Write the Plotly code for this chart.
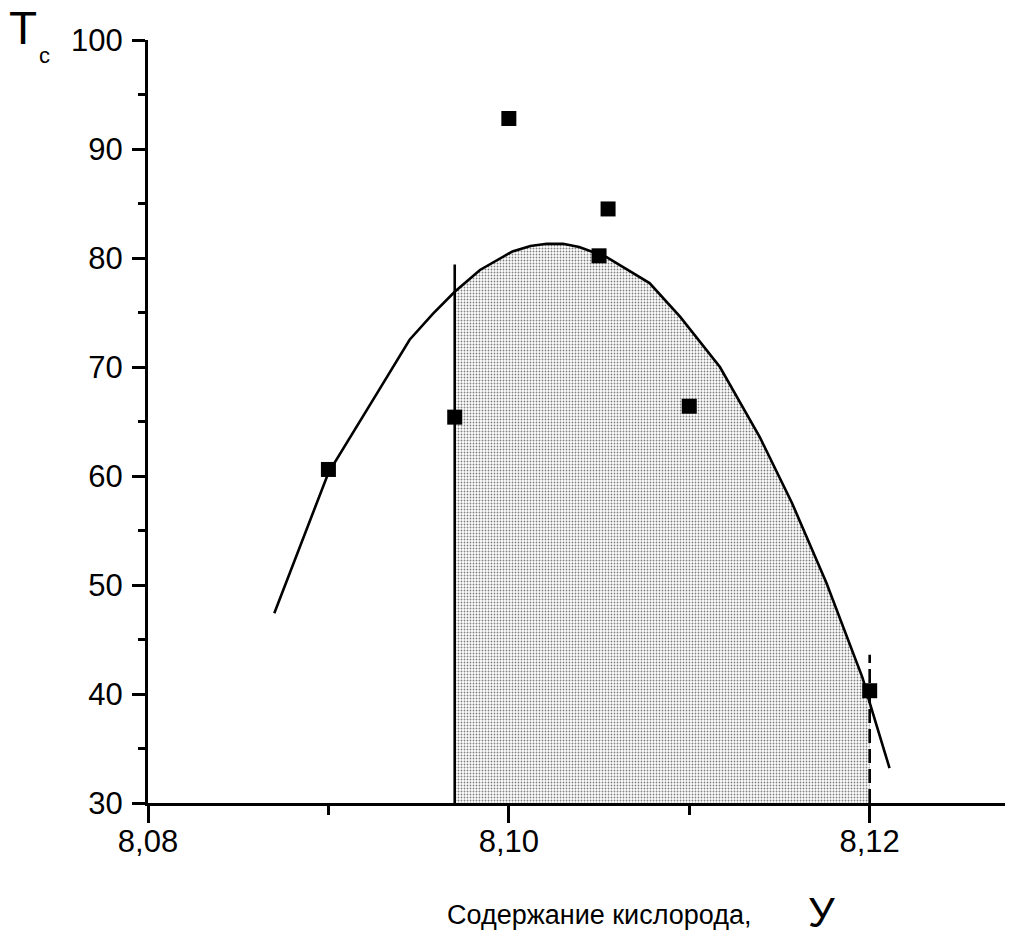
import plotly.graph_objects as go

# measured data points
x_pts = [8.090, 8.097, 8.100, 8.105, 8.1055, 8.110, 8.120]
y_pts = [60.6, 65.4, 92.8, 80.2, 84.5, 66.4, 40.3]

# fitted curve
curve_x = [8.0870, 8.0900, 8.0927, 8.0945, 8.0958, 8.0970, 8.0984, 8.1002, 8.1012,
           8.1021, 8.1030, 8.1039, 8.1054, 8.1078, 8.1095, 8.1117, 8.1139, 8.1157,
           8.1176, 8.1196, 8.1200, 8.1211]
curve_y = [47.4, 60.3, 67.6, 72.5, 74.9, 76.9, 78.9, 80.6, 81.1,
           81.3, 81.3, 81.0, 80.1, 77.7, 74.6, 70.0, 63.6, 57.5,
           50.2, 41.5, 39.2, 33.2]

# shaded region bounds
x_left = 8.097
x_right = 8.120
left_line_top = 79.4
right_line_top = 43.6
y_base = 30

x_ticks = [8.08, 8.10, 8.12]
y_ticks = [30, 40, 50, 60, 70, 80, 90, 100]

# build fill polygon from curve data
sx = [x_left, x_left]
sy = [y_base, 76.9]
for cx, cy in zip(curve_x, curve_y):
    if x_left < cx <= x_right:
        sx.append(cx)
        sy.append(cy)
sx += [x_right, x_left]
sy += [y_base, y_base]

fig = go.Figure()
fig.add_trace(go.Scatter(
    x=sx, y=sy, mode="none", fill="toself",
    fillcolor="white",
    fillpattern=dict(shape=".", fgcolor="black", bgcolor="white", size=3, solidity=0.3),
    hoverinfo="skip", showlegend=False))
fig.add_trace(go.Scatter(
    x=curve_x, y=curve_y, mode="lines", line=dict(color="black", width=2.6),
    showlegend=False))
fig.add_trace(go.Scatter(
    x=[x_left, x_left], y=[y_base, left_line_top], mode="lines",
    line=dict(color="black", width=2.6), showlegend=False))
fig.add_trace(go.Scatter(
    x=[x_right, x_right], y=[y_base, right_line_top], mode="lines",
    line=dict(color="black", width=2.6, dash="14px,6px"), showlegend=False))
fig.add_trace(go.Scatter(
    x=x_pts, y=y_pts, mode="markers",
    marker=dict(symbol="square", size=15, color="black"), showlegend=False))

font_family = "Liberation Sans, Arial, sans-serif"

fig.update_layout(
    width=1017, height=937,
    margin=dict(l=148, r=12, t=40, b=134),
    paper_bgcolor="white", plot_bgcolor="white",
    separators=", ",
    font=dict(family=font_family, color="black", size=30),
    xaxis=dict(
        range=[8.08, 8.1275], tickvals=x_ticks, tickformat=".2f",
        showgrid=False, zeroline=False, showline=True, linecolor="black", linewidth=3,
        ticks="outside", ticklen=17, tickwidth=3, tickcolor="black",
        minor=dict(dtick=0.01, ticks="outside", ticklen=9, tickwidth=3, tickcolor="black"),
        tickfont=dict(size=31), ticklabelstandoff=-8,
    ),
    yaxis=dict(
        range=[30, 100], tickvals=y_ticks,
        showgrid=False, zeroline=False, showline=True, linecolor="black", linewidth=3,
        ticks="outside", ticklen=13, tickwidth=3, tickcolor="black",
        minor=dict(dtick=5, ticks="outside", ticklen=7, tickwidth=3, tickcolor="black"),
        tickfont=dict(size=31), ticklabelstandoff=3,
    ),
    annotations=[
        dict(text="T", x=23, y=28, showarrow=False,
             font=dict(size=46, family=font_family)),
        dict(text="c", x=44, y=55, showarrow=False,
             font=dict(size=22, family=font_family)),
        dict(text="Содержание кислорода,", x=599, y=915, showarrow=False,
             font=dict(size=27, family=font_family)),
        dict(text="У", x=821, y=912, showarrow=False,
             font=dict(size=42, family=font_family)),
    ],
)

# convert pixel-positioned annotations to paper coordinates
W, H = 1017, 937
l, r, t, b = 148, 12, 40, 134
pw, ph = W - l - r, H - t - b
new_ann = []
for a in fig.layout.annotations:
    a.x = (a.x - l) / pw
    a.y = 1 - (a.y - t) / ph
    a.xref = "paper"
    a.yref = "paper"
    a.xanchor = "center"
    a.yanchor = "middle"
    new_ann.append(a)
fig.layout.annotations = new_ann

fig.write_html("out.html")
